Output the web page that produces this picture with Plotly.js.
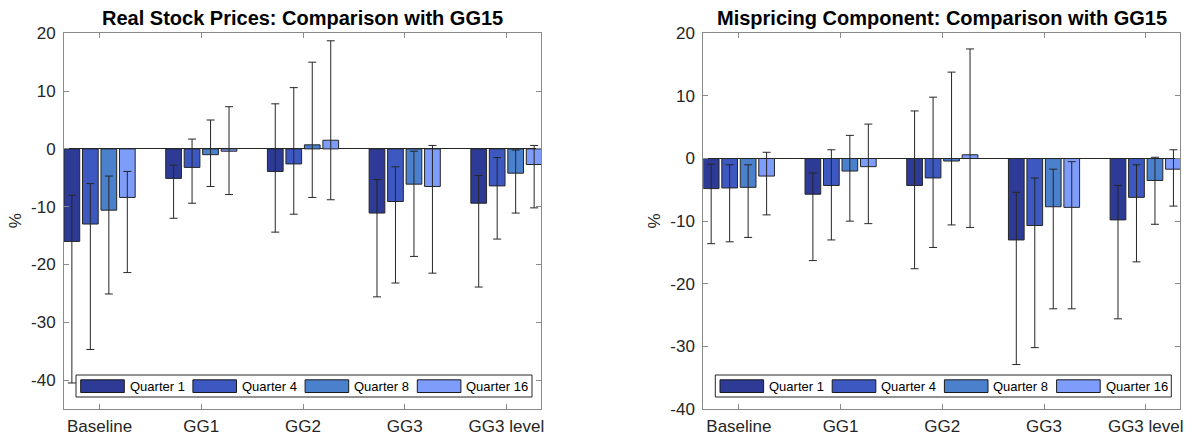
<!DOCTYPE html>
<html>
<head>
<meta charset="utf-8">
<script src="https://cdn.plot.ly/plotly-3.0.1.min.js"></script>
<style>html,body{margin:0;padding:0;background:#fff;}#chart{width:1188px;height:437px;}</style>
</head>
<body>
<div id="chart"></div>
<script>
// ---------------- data ----------------
const categories = ['Baseline', 'GG1', 'GG2', 'GG3', 'GG3 level'];
const seriesNames = ['Quarter 1', 'Quarter 4', 'Quarter 8', 'Quarter 16'];
const seriesColors = ['#2e3b96', '#3d59c1', '#4a80cc', '#7e9cfa'];
const panelTitles = ['Real Stock Prices: Comparison with GG15', 'Mispricing Component: Comparison with GG15'];
const yTickVals = [-40, -30, -20, -10, 0, 10, 20];

// Real stock prices: point estimates, upper and lower bands
const priceQ1 = [-16.0, -5.1, -3.9, -11.1, -9.4];
const priceQ1Upper = [-8.0, -2.8, 7.8, -5.3, -4.6];
const priceQ1Lower = [-40.5, -12.0, -14.4, -25.6, -23.9];
const priceQ4 = [-13.0, -3.2, -2.6, -9.1, -6.4];
const priceQ4Upper = [-6.0, 1.7, 10.6, -3.1, -1.5];
const priceQ4Lower = [-34.7, -9.4, -11.3, -23.2, -15.6];
const priceQ8 = [-10.6, -1.0, 0.7, -6.1, -4.2];
const priceQ8Upper = [-4.7, 5.0, 15.0, -0.4, -0.2];
const priceQ8Lower = [-25.1, -6.5, -8.4, -18.6, -11.1];
const priceQ16 = [-8.4, -0.4, 1.5, -6.5, -2.7];
const priceQ16Upper = [-3.9, 7.3, 18.7, 0.6, 0.6];
const priceQ16Lower = [-21.4, -7.9, -8.8, -21.5, -10.2];

// Mispricing component: point estimates, upper and lower bands
const misQ1 = [-4.8, -5.7, -4.3, -13.0, -9.8];
const misQ1Upper = [-0.9, -2.3, 7.6, -5.4, -4.3];
const misQ1Lower = [-13.6, -16.3, -17.6, -32.9, -25.6];
const misQ4 = [-4.7, -4.3, -3.1, -10.7, -6.2];
const misQ4Upper = [-1.0, 1.4, 9.8, -3.1, -1.0];
const misQ4Lower = [-13.3, -13.0, -14.2, -30.2, -16.5];
const misQ8 = [-4.6, -2.0, -0.4, -7.7, -3.5];
const misQ8Upper = [-1.0, 3.7, 13.8, -1.7, 0.2];
const misQ8Lower = [-12.6, -10.0, -10.6, -24.0, -10.5];
const misQ16 = [-2.8, -1.3, 0.6, -7.8, -1.7];
const misQ16Upper = [1.0, 5.5, 17.5, -0.5, 1.4];
const misQ16Lower = [-9.0, -10.4, -11.0, -24.0, -7.6];

// ---------------- layout constants ----------------
const W = 1188, H = 437;
const FONT = 'Liberation Sans, Arial, Helvetica, sans-serif';
const panels = [
  {xa: 'x', ya: 'y', left: 64, right: 541, yrange: [-45, 20],
   vals: [priceQ1, priceQ4, priceQ8, priceQ16],
   ups: [priceQ1Upper, priceQ4Upper, priceQ8Upper, priceQ16Upper],
   lows: [priceQ1Lower, priceQ4Lower, priceQ8Lower, priceQ16Lower]},
  {xa: 'x2', ya: 'y2', left: 703.3, right: 1180.3, yrange: [-40, 20],
   vals: [misQ1, misQ4, misQ8, misQ16],
   ups: [misQ1Upper, misQ4Upper, misQ8Upper, misQ16Upper],
   lows: [misQ1Lower, misQ4Lower, misQ8Lower, misQ16Lower]}
];
const plotTop = 33.3, plotBottom = 409;
const px = v => v / W;
const py = v => (H - v) / H;

const traces = [];
panels.forEach((p, pi) => {
  p.vals.forEach((vals, si) => {
    traces.push({
      type: 'bar',
      x: categories,
      y: vals,
      name: seriesNames[si],
      xaxis: p.xa, yaxis: p.ya,
      showlegend: false,
      marker: {color: seriesColors[si], line: {color: '#262626', width: 1}},
      error_y: {
        type: 'data', symmetric: false,
        array: p.ups[si].map((u, i) => u - vals[i]),
        arrayminus: p.lows[si].map((l, i) => vals[i] - l),
        color: '#262626', thickness: 1, width: 4
      },
      hoverinfo: 'x+y+name'
    });
  });
});

function xAxis(p, anchor) {
  return {
    domain: [px(p.left), px(p.right)], anchor: anchor,
    type: 'category', range: [-0.35, 4.34],
    showline: true, linecolor: '#8a8a8a', linewidth: 1, mirror: 'ticks',
    ticks: 'inside', ticklen: 5, tickcolor: '#8a8a8a', tickwidth: 1,
    showgrid: false, zeroline: false,
    tickfont: {family: FONT, size: 17, color: '#262626'},
    ticklabelstandoff: 2, fixedrange: true
  };
}
function yAxis(p, anchor) {
  return {
    domain: [py(plotBottom), py(plotTop)], anchor: anchor,
    range: p.yrange, tickvals: yTickVals, ticktext: yTickVals.map(String),
    showline: true, linecolor: '#8a8a8a', linewidth: 1, mirror: 'ticks',
    ticks: 'inside', ticklen: 5, tickcolor: '#8a8a8a', tickwidth: 1,
    showgrid: false, zeroline: true, zerolinecolor: '#262626', zerolinewidth: 1,
    tickfont: {family: FONT, size: 17, color: '#262626'},
    ticklabelstandoff: 4, fixedrange: true
  };
}

const shapes = [];
const annotations = [];
panels.forEach((p, pi) => {
  // title
  annotations.push({
    xref: 'paper', yref: 'paper', x: px((p.left + p.right) / 2), y: py(18),
    xanchor: 'center', yanchor: 'middle', showarrow: false,
    text: '<b>' + panelTitles[pi] + '</b>',
    font: {family: FONT, size: 20, color: '#000'}
  });
  // y label
  annotations.push({
    xref: 'paper', yref: 'paper', x: px(p.left - 49), y: py((plotTop + plotBottom) / 2),
    xanchor: 'center', yanchor: 'middle', showarrow: false, textangle: -90,
    text: '%', font: {family: FONT, size: 17, color: '#262626'}
  });
  // custom legend
  const lx0 = p.left + 12, lx1 = lx0 + 456, ly0 = 375, ly1 = 397;
  shapes.push({type: 'rect', xref: 'paper', yref: 'paper', layer: 'above',
    x0: px(lx0), x1: px(lx1), y0: py(ly1), y1: py(ly0),
    fillcolor: '#ffffff', line: {color: '#262626', width: 1}});
  seriesNames.forEach((nm, si) => {
    const sx0 = lx0 + 4.7 + si * 112.2;
    shapes.push({type: 'rect', xref: 'paper', yref: 'paper', layer: 'above',
      x0: px(sx0), x1: px(sx0 + 43.6), y0: py(392.5), y1: py(379.8),
      fillcolor: seriesColors[si], line: {color: '#1a1a1a', width: 1}});
    annotations.push({
      xref: 'paper', yref: 'paper', x: px(sx0 + 47), y: py(386.2),
      xanchor: 'left', yanchor: 'middle', showarrow: false,
      text: nm, font: {family: FONT, size: 13, color: '#000'}
    });
  });
});

const layout = {
  width: W, height: H,
  margin: {l: 0, r: 0, t: 0, b: 0},
  paper_bgcolor: '#fff', plot_bgcolor: '#fff',
  barmode: 'group', bargap: 0.273, bargroupgap: 0.15,
  xaxis: xAxis(panels[0], 'y'),
  yaxis: yAxis(panels[0], 'x'),
  xaxis2: xAxis(panels[1], 'y2'),
  yaxis2: yAxis(panels[1], 'x2'),
  shapes: shapes,
  annotations: annotations,
  showlegend: false,
  font: {family: FONT}
};

Plotly.newPlot('chart', traces, layout, {displayModeBar: false, staticPlot: true});
</script>
</body>
</html>
